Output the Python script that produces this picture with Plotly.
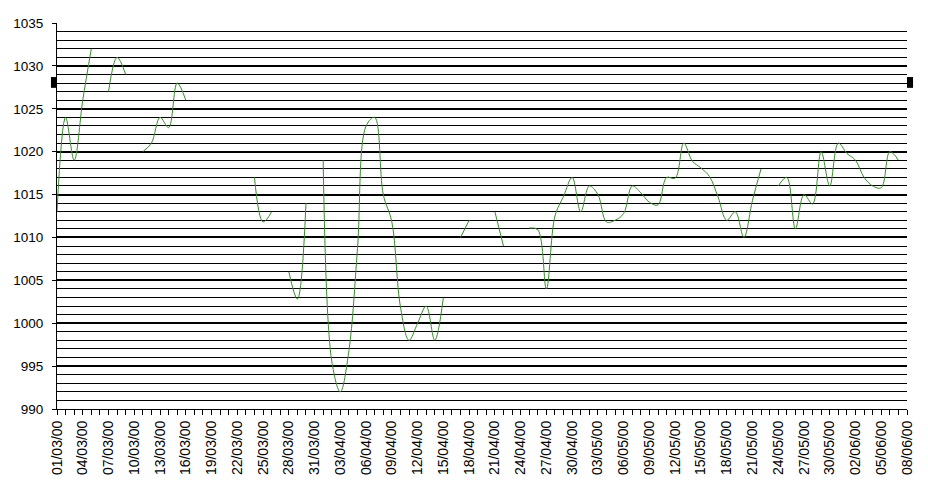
import pandas as pd
import plotly.graph_objects as go

start_date = "2000-03-01"
n_days = 100
dates = pd.date_range(start_date, periods=n_days, freq="D")

pressure = [
    1013, 1024, 1019, 1026, 1032, None, 1027, 1031, 1029, None,
    1020, 1021, 1024, 1022.8, 1028, 1026, None, None, None, None,
    None, None, None, 1017, 1011.8, 1013, None, 1006, 1002.8, 1014,
    None, 1019, 995.6, 992, 996.8, 1008.7, 1023, 1024, 1015, 1011.8,
    1001.9, 998, 1000, 1002, 998, 1003, None, 1010, 1012, None,
    None, 1013, 1009, None, None, 1011.1, 1010.9, 1004, 1012.5, 1014.8,
    1017, 1013, 1016, 1015, 1011.8, 1012, 1012.8, 1016, 1015.2, 1014.1,
    1013.8, 1017, 1016.9, 1021, 1018.9, 1018.1, 1017.1, 1014.7, 1012, 1013,
    1010, 1014.3, 1018, None, 1016, 1017, 1011, 1015, 1013.9, 1020,
    1016, 1021, 1019.8, 1019, 1017, 1016, 1015.8, 1020, 1019, None,
]

y_min, y_max = 990, 1035
DAY = 86400000

fig = go.Figure()
fig.add_trace(go.Scatter(
    x=dates, y=pressure, mode="lines",
    line=dict(color="#3b8b2e", width=1, shape="spline", smoothing=1.0),
    connectgaps=False, showlegend=False, hoverinfo="skip",
))

FAM = "Liberation Sans, Arial, sans-serif"
x_range = [dates[0], dates[-1]]

fig.update_layout(
    width=928, height=482,
    margin=dict(l=57, r=21, t=23, b=73, autoexpand=False),
    paper_bgcolor="white", plot_bgcolor="white",
    font=dict(family=FAM, size=13, color="black"),
    xaxis=dict(
        type="date", range=x_range, automargin=False,
        showline=True, linecolor="black", linewidth=1,
        ticks="outside", ticklen=5, tickcolor="black", tickwidth=1,
        tick0=dates[0], dtick=3 * DAY, tickformat="%d/%m/%y", tickangle=-90,
        tickfont=dict(family=FAM, size=14, color="black"),
        showgrid=False, zeroline=False,
        minor=dict(dtick=DAY, tick0=dates[0], ticks="outside", ticklen=5,
                   tickcolor="black", tickwidth=1, showgrid=False),
    ),
    xaxis2=dict(
        type="date", range=x_range, overlaying="x", anchor="y", side="bottom",
        automargin=False,
        ticks="inside", ticklen=5, tickcolor="black", tickwidth=1,
        tick0=dates[0], dtick=DAY, showticklabels=False, showgrid=False,
        showline=False, zeroline=False,
    ),
    xaxis3=dict(
        type="date", range=x_range, overlaying="x", anchor="y", side="top",
        automargin=False,
        showline=True, linecolor="#808080", linewidth=1, ticks="",
        showticklabels=False, showgrid=False, zeroline=False,
    ),
    yaxis=dict(
        range=[y_min, y_max], dtick=5, tick0=y_min, automargin=False,
        showline=True, linecolor="black", linewidth=1,
        ticks="outside", ticklen=4, tickcolor="black",
        tickfont=dict(family=FAM, size=13.5, color="black"),
        showgrid=True, gridcolor="black", gridwidth=2, zeroline=False,
        ticklabelstandoff=6,
        minor=dict(dtick=1, showgrid=True, gridcolor="black", gridwidth=1, ticks=""),
    ),
    yaxis2=dict(
        range=[y_min, y_max], overlaying="y", anchor="x", side="right",
        automargin=False,
        showline=True, linecolor="#808080", linewidth=1, ticks="",
        showticklabels=False, showgrid=False, zeroline=False,
    ),
)

# Chart-selection handles visible in the original screenshot (decoration only)
for hx0, hx1 in [(-0.0071, 0.0), (1.0, 1.0071)]:
    fig.add_shape(type="rect", xref="paper", yref="paper",
                  x0=hx0, x1=hx1, y0=0.832, y1=0.860,
                  fillcolor="black", line=dict(width=0), layer="above")

fig.write_html(
    "out.html",
    config={"displayModeBar": False},
    post_script="document.body.style.margin='0px';document.body.style.padding='0px';",
)
